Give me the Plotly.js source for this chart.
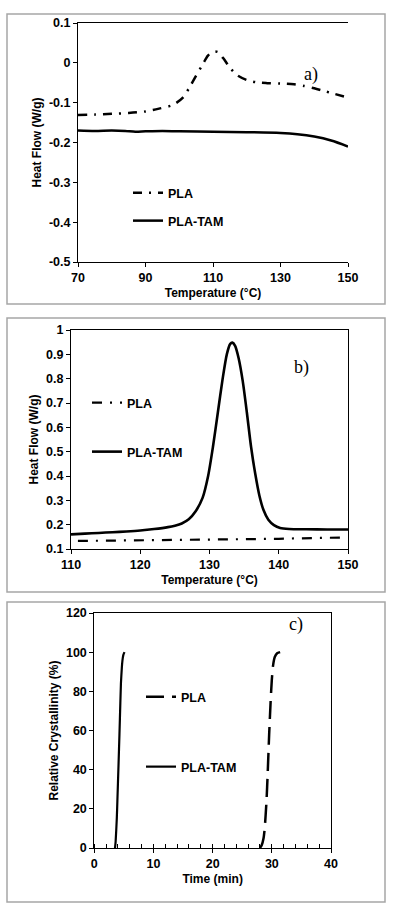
<!DOCTYPE html>
<html>
<head>
<meta charset="utf-8">
<script src="https://cdn.plot.ly/plotly-3.0.1.min.js"></script>
<style>html,body{margin:0;padding:0;background:#fff;}#chart{width:395px;height:920px;}</style>
</head>
<body>
<div id="chart"></div>
<script>
// ---------- Panel a) data ----------
const aPLA_T = [70, 75, 80, 85, 90, 94, 98, 101, 103, 105, 107, 108.5, 110, 111.5, 113, 115, 117, 120, 123, 126, 130, 134, 137, 140, 143, 146, 150];
const aPLA_Y = [-0.131, -0.130, -0.128, -0.126, -0.122, -0.115, -0.106, -0.088, -0.062, -0.032, -0.003, 0.018, 0.028, 0.027, 0.012, -0.012, -0.030, -0.043, -0.049, -0.051, -0.052, -0.054, -0.058, -0.064, -0.071, -0.078, -0.087];
const aTAM_T = [70, 75, 80, 84, 87, 90, 95, 100, 110, 120, 130, 135, 140, 145, 150];
const aTAM_Y = [-0.170, -0.171, -0.170, -0.171, -0.173, -0.172, -0.171, -0.172, -0.173, -0.174, -0.176, -0.179, -0.185, -0.195, -0.210];
const aXticks = [70, 90, 110, 130, 150];
const aYticks = [0.1, 0, -0.1, -0.2, -0.3, -0.4, -0.5];
const aYlabels = ["0.1", "0", "-0.1", "-0.2", "-0.3", "-0.4", "-0.5"];

// ---------- Panel b) data ----------
const bPLA_T = [111, 115, 120, 125, 130, 135, 140, 145, 149];
const bPLA_Y = [0.133, 0.134, 0.136, 0.137, 0.139, 0.140, 0.142, 0.145, 0.147];
const bTAM_T = [110, 112, 114, 116, 118, 120, 122, 124, 125, 126, 127, 128, 129, 129.8, 130.5, 131.2, 131.9, 132.5, 133.0, 133.3, 133.7, 134.2, 134.8, 135.4, 136.0, 136.6, 137.2, 137.8, 138.5, 139.3, 140.2, 141.5, 144, 147, 150];
const bTAM_Y = [0.160, 0.163, 0.166, 0.169, 0.172, 0.176, 0.182, 0.190, 0.196, 0.205, 0.222, 0.255, 0.310, 0.400, 0.520, 0.660, 0.800, 0.900, 0.943, 0.948, 0.935, 0.885, 0.790, 0.660, 0.520, 0.410, 0.320, 0.260, 0.220, 0.198, 0.186, 0.182, 0.181, 0.180, 0.180];
const bXticks = [110, 120, 130, 140, 150];
const bYticks = [0.1, 0.2, 0.3, 0.4, 0.5, 0.6, 0.7, 0.8, 0.9, 1];
const bYlabels = ["0.1", "0.2", "0.3", "0.4", "0.5", "0.6", "0.7", "0.8", "0.9", "1"];

// ---------- Panel c) data ----------
const cPLA_t = [28.0, 28.3, 28.6, 28.8, 29.1, 29.3, 29.55, 29.8, 30.0, 30.2, 30.5, 30.9, 31.4];
const cPLA_X = [0, 1.5, 5, 10, 24, 38, 58, 75, 86, 93, 97.5, 99.4, 100];
const cTAM_t = [3.5, 3.6, 3.8, 3.9, 4.1, 4.25, 4.4, 4.5, 4.65, 4.75, 4.9, 5.1];
const cTAM_X = [0, 3, 15, 24, 43, 58, 74, 84, 92, 95.5, 98.5, 100];
const cXticks = [0, 10, 20, 30, 40];
const cYticks = [0, 20, 40, 60, 80, 100, 120];

const seriesNames = ["PLA", "PLA-TAM"];
const panelLabels = ["a)", "b)", "c)"];

// ---------- layout helpers ----------
const W = 395, H = 920;
const px = v => v / W;
const py = v => 1 - v / H;
const FONT = "Liberation Sans, Arial, sans-serif";
const tickFont = {family: FONT, size: 12.5, color: "#000", weight: "bold"};
const titleFont = {family: FONT, size: 12, color: "#000", weight: "bold"};
const legFont = {family: FONT, size: 12.5, color: "#000", weight: "bold"};

const traces = [
  {x: aPLA_T, y: aPLA_Y, xaxis: "x", yaxis: "y", name: seriesNames[0], legend: "legend", mode: "lines",
   line: {color: "#000", width: 2.5, dash: "9px,7px,2px,7px", shape: "spline", smoothing: 0.8}},
  {x: aTAM_T, y: aTAM_Y, xaxis: "x", yaxis: "y", name: seriesNames[1], legend: "legend2", mode: "lines",
   line: {color: "#000", width: 2.5, shape: "spline", smoothing: 0.8}},
  {x: bPLA_T, y: bPLA_Y, xaxis: "x2", yaxis: "y2", name: seriesNames[0], legend: "legend3", mode: "lines",
   line: {color: "#000", width: 2.2, dash: "10px,8px,2px,8px"}},
  {x: bTAM_T, y: bTAM_Y, xaxis: "x2", yaxis: "y2", name: seriesNames[1], legend: "legend4", mode: "lines",
   line: {color: "#000", width: 2.6, shape: "spline", smoothing: 0.7}},
  {x: cPLA_t, y: cPLA_X, xaxis: "x3", yaxis: "y3", name: seriesNames[0], legend: "legend5", mode: "lines",
   line: {color: "#000", width: 2.5, dash: "18px,8px", shape: "spline", smoothing: 0.5}},
  {x: cTAM_t, y: cTAM_X, xaxis: "x3", yaxis: "y3", name: seriesNames[1], legend: "legend6", mode: "lines",
   line: {color: "#000", width: 2.2, shape: "spline", smoothing: 0.5}}
];

function axBase(extra) {
  return Object.assign({
    showgrid: false, zeroline: false, showline: true, linecolor: "#000", linewidth: 1,
    ticks: "outside", ticklen: 4, tickcolor: "#000", tickwidth: 1,
    tickfont: tickFont, fixedrange: true, automargin: false
  }, extra);
}

function leg(x, y) {
  return {x: px(x), y: py(y), xanchor: "left", yanchor: "middle", bgcolor: "rgba(0,0,0,0)",
          borderwidth: 0, font: legFont, itemwidth: 30, tracegroupgap: 0};
}

const boxLine = {color: "#a6a6a6", width: 1.5};

const layout = {
  width: W, height: H, margin: {l: 0, r: 0, t: 0, b: 0},
  paper_bgcolor: "#fff", plot_bgcolor: "#fff", showlegend: true, hovermode: false,
  xaxis: axBase({domain: [px(78), px(348)], anchor: "y", range: [70, 150], tickvals: aXticks,
    mirror: true, linecolor: "#000", title: {text: "Temperature (°C)", font: titleFont, standoff: 4}}),
  yaxis: axBase({domain: [py(262), py(23)], anchor: "x", range: [-0.5, 0.1], tickvals: aYticks, ticktext: aYlabels,
    title: {text: "Heat Flow (W/g)", font: titleFont, standoff: 4}}),
  xaxis2: axBase({domain: [px(71), px(348)], anchor: "y2", range: [110, 150], tickvals: bXticks,
    mirror: true, title: {text: "Temperature (°C)", font: titleFont, standoff: 4}}),
  yaxis2: axBase({domain: [py(549), py(330)], anchor: "x2", range: [0.1, 1], tickvals: bYticks, ticktext: bYlabels,
    mirror: true, title: {text: "Heat Flow (W/g)", font: titleFont, standoff: 4}}),
  xaxis3: axBase({domain: [px(94.3), px(331)], anchor: "y3", range: [0, 40], tickvals: cXticks,
    mirror: true, minor: {ticks: "inside", dtick: 2, ticklen: 4, tickcolor: "#000", tickwidth: 1},
    title: {text: "Time (min)", font: titleFont, standoff: 4}}),
  yaxis3: axBase({domain: [py(848), py(613)], anchor: "x3", range: [0, 120], tickvals: cYticks,
    mirror: true, title: {text: "Relative Crystallinity (%)", font: titleFont, standoff: 4}}),
  legend: leg(128, 193),
  legend2: leg(128, 221),
  legend3: leg(87, 403),
  legend4: leg(87, 452),
  legend5: leg(141, 697),
  legend6: leg(141, 767),
  shapes: [
    {type: "rect", xref: "paper", yref: "paper", x0: px(7), x1: px(385), y0: py(304), y1: py(14), line: boxLine},
    {type: "rect", xref: "paper", yref: "paper", x0: px(7), x1: px(385), y0: py(592), y1: py(318), line: boxLine},
    {type: "rect", xref: "paper", yref: "paper", x0: px(7), x1: px(385), y0: py(902), y1: py(602), line: boxLine}
  ],
  annotations: [
    {text: panelLabels[0], xref: "paper", yref: "paper", x: px(320), y: py(62), showarrow: false,
     font: {family: "Liberation Serif, Times New Roman, serif", size: 18, color: "#000"}},
    {text: panelLabels[1], xref: "paper", yref: "paper", x: px(311), y: py(367), showarrow: false,
     font: {family: "Liberation Serif, Times New Roman, serif", size: 18, color: "#000"}},
    {text: panelLabels[2], xref: "paper", yref: "paper", x: px(305), y: py(637), showarrow: false,
     font: {family: "Liberation Serif, Times New Roman, serif", size: 18, color: "#000"}}
  ]
};

Plotly.newPlot("chart", traces, layout, {staticPlot: true, displayModeBar: false});
</script>
</body>
</html>
